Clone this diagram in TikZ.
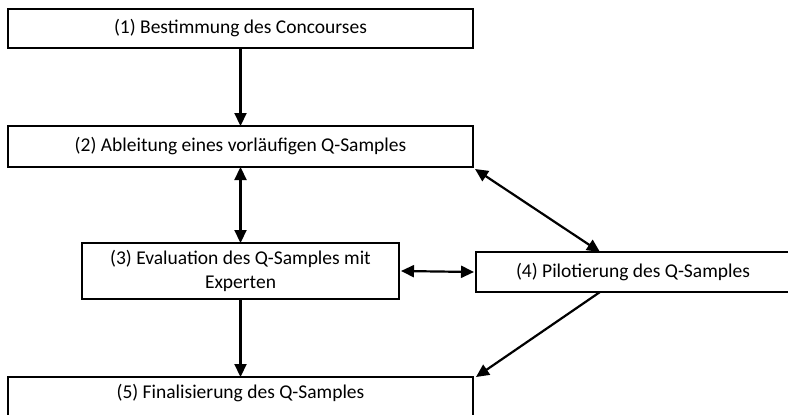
\documentclass[tikz,border=0pt]{standalone}
\usepackage{fontspec}
\setmainfont{Carlito}
\usetikzlibrary{arrows.meta,calc}
\begin{document}
\begin{tikzpicture}[x=1pt,y=-1pt,
  txt/.style={font=\fontsize{19.5}{24}\selectfont},
  box/.style={txt,draw=black,line width=2.2pt,fill=white,inner sep=0pt,outer sep=0pt,align=center},
  conn/.style={line width=2.2pt,-{Triangle[length=13pt,width=12pt]}},
  bconn/.style={line width=2.2pt,{Triangle[length=13pt,width=12pt]}-{Triangle[length=13pt,width=12pt]}}]
\useasboundingbox (0,0) rectangle (788,415);
\clip (0,0) rectangle (788,415);
\node[box,minimum width=465,minimum height=39] (n1) at (240.5,28.5) {(1) Bestimmung des Concourses};
\node[box,minimum width=465,minimum height=41] (n2) at (240.5,146.5) {(2) Ableitung eines vorläufigen Q-Samples};
\node[box,minimum width=317,minimum height=56] (n3) at (240.5,271) {(3) Evaluation des Q-Samples mit\\Experten};
\node[box,minimum width=314,minimum height=40] (n4) at (633,272) {(4) Pilotierung des Q-Samples};
\node[box,minimum width=465,minimum height=46,anchor=north] (n5) at (240.5,377) {};
\node[txt,inner sep=0pt] (t5) at (240.5,393) {(5) Finalisierung des Q-Samples};
\coordinate (p4t) at ([xshift=124pt]n4.north west);
\coordinate (p4b) at ([xshift=124pt]n4.south west);
\draw[conn] (n1.south) -- (n2.north);
\draw[bconn] (n2.south) -- (n3.north);
\draw[bconn] (n3.east) ++(2,0) -- ([xshift=-2pt]n4.west);
\draw[bconn] ([shift={(2pt,-2pt)}]n2.south east) -- (p4t);
\draw[conn] (p4b) -- ([shift={(3pt,0pt)}]n5.north east);
\draw[conn] (n3.south) -- (n5.north);
\end{tikzpicture}
\end{document}
